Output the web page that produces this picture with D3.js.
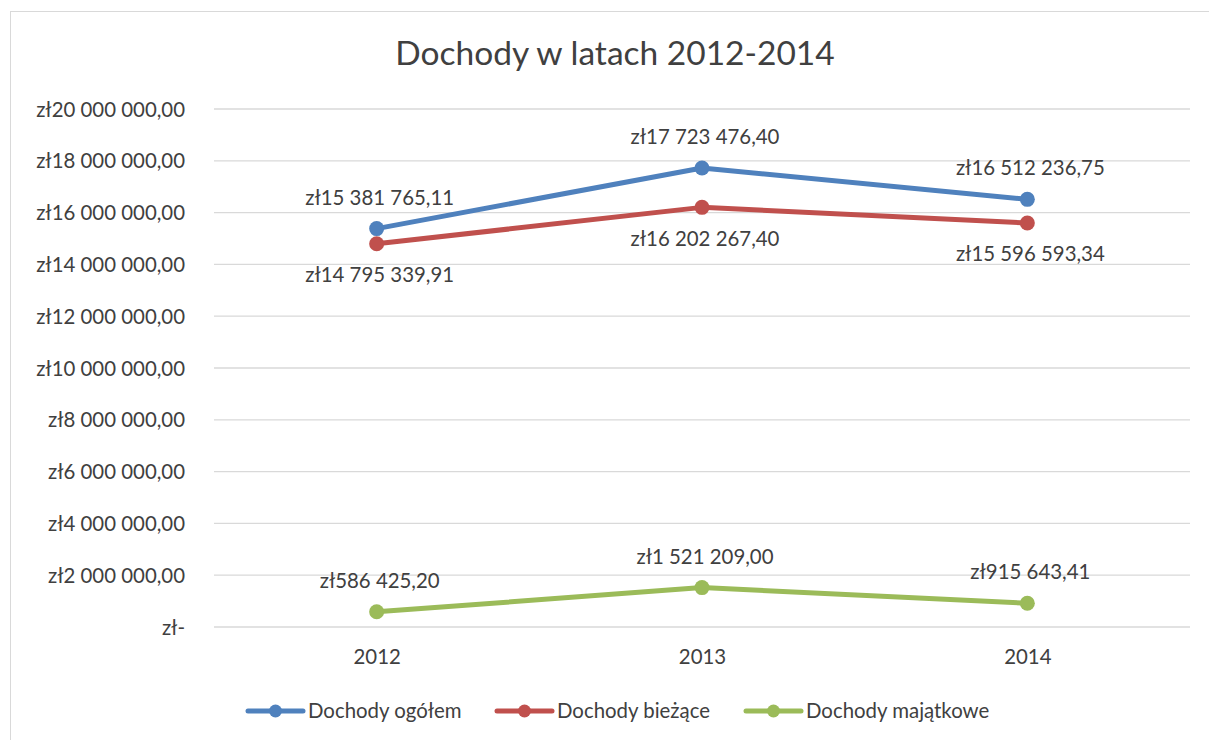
<!DOCTYPE html>
<html>
<head>
<meta charset="utf-8">
<script src="https://cdn.jsdelivr.net/npm/d3@7"></script>
<style>
  body { margin: 0; background: #fff; }
  text { font-family: Lato, "Open Sans", sans-serif; fill: #404040; }
</style>
</head>
<body>
<svg width="1209" height="740"></svg>
<script>
// data
var years = ["2012", "2013", "2014"];
var seriesNames = ["Dochody ogółem", "Dochody bieżące", "Dochody majątkowe"];
var ogolem = [15381765.11, 17723476.40, 16512236.75];
var biezace = [14795339.91, 16202267.40, 15596593.34];
var majatkowe = [586425.20, 1521209.00, 915643.41];
var yTicks = [0, 2e6, 4e6, 6e6, 8e6, 10e6, 12e6, 14e6, 16e6, 18e6, 20e6];
var colors = ["#4f81bd", "#c0504d", "#9bbb59"];
var labelSide = [-1, 1, -1]; // above / below the point

var svg = d3.select("svg"),
    margin = {top: 109, right: 19, bottom: 113, left: 214},
    width = 1209 - margin.left - margin.right,
    height = 740 - margin.top - margin.bottom;

var fs = "20.4px";

// chart border
svg.append("rect")
  .attr("x", 10.5).attr("y", 11.5)
  .attr("width", 1220).attr("height", 760)
  .attr("fill", "none").attr("stroke", "#d9d9d9").attr("stroke-width", 1);

svg.append("text")
  .attr("x", 615).attr("y", 65)
  .attr("text-anchor", "middle")
  .style("font-size", "33.5px")
  .text("Dochody w latach 2012-2014");

var g = svg.append("g").attr("transform", "translate(" + margin.left + "," + margin.top + ")");

var loc = d3.formatLocale({decimal: ",", thousands: " ", grouping: [3], currency: ["zł", ""]});
var fmt = loc.format(",.2f");
function money(v) { return v === 0 ? "zł-" : "zł" + fmt(v); }

var x = d3.scalePoint().domain(years).range([0, width]).padding(0.5),
    y = d3.scaleLinear().domain([0, 20e6]).range([height, 0]);

// gridlines
g.selectAll(".grid").data(yTicks).enter().append("line")
  .attr("x1", 0).attr("x2", width)
  .attr("y1", function(d) { return y(d); }).attr("y2", function(d) { return y(d); })
  .attr("stroke", "#d9d9d9").attr("stroke-width", 1.3);

// y axis labels
var yAxis = g.append("g").call(d3.axisLeft(y).tickValues(yTicks).tickFormat(money).tickSize(0).tickPadding(29));
yAxis.select(".domain").remove();
yAxis.selectAll("text").style("font-size", fs).attr("dy", "0.35em").attr("fill", "#404040");

// x axis labels
var xAxis = g.append("g").attr("transform", "translate(0," + height + ")")
  .call(d3.axisBottom(x).tickSize(0).tickPadding(23));
xAxis.select(".domain").remove();
xAxis.selectAll("text").style("font-size", fs).attr("fill", "#404040");

var series = [ogolem, biezace, majatkowe].map(function(vals, i) {
  return {name: seriesNames[i], color: colors[i], side: labelSide[i],
    values: vals.map(function(v, j) { return {year: years[j], value: v}; })};
});

var line = d3.line()
  .x(function(d) { return x(d.year); })
  .y(function(d) { return y(d.value); });

var s = g.selectAll(".series").data(series).enter().append("g").attr("class", "series");

s.append("path")
  .attr("d", function(d) { return line(d.values); })
  .attr("fill", "none")
  .attr("stroke", function(d) { return d.color; })
  .attr("stroke-width", 5)
  .attr("stroke-linejoin", "round")
  .attr("stroke-linecap", "round");

s.each(function(sd) {
  var sel = d3.select(this);
  sel.selectAll("circle").data(sd.values).enter().append("circle")
    .attr("cx", function(d) { return x(d.year); })
    .attr("cy", function(d) { return y(d.value); })
    .attr("r", 7.5)
    .attr("fill", sd.color);
  sel.selectAll(".lbl").data(sd.values).enter().append("text")
    .attr("class", "lbl")
    .attr("x", function(d) { return x(d.year) + 3; })
    .attr("y", function(d) { return y(d.value) + sd.side * 31; })
    .attr("dy", "0.35em")
    .attr("text-anchor", "middle")
    .style("font-size", fs)
    .text(function(d) { return money(d.value); });
});

// legend
var legendX = [248, 497, 746];
var lg = svg.selectAll(".legend").data(series).enter().append("g")
  .attr("class", "legend")
  .attr("transform", function(d, i) { return "translate(" + legendX[i] + ",711)"; });
lg.append("line")
  .attr("x1", 0).attr("x2", 55)
  .attr("stroke", function(d) { return d.color; })
  .attr("stroke-width", 5).attr("stroke-linecap", "round");
lg.append("circle").attr("cx", 27.5).attr("r", 6.5).attr("fill", function(d) { return d.color; });
lg.append("text")
  .attr("x", 60).attr("dy", "0.35em")
  .style("font-size", fs)
  .text(function(d) { return d.name; });
</script>
</body>
</html>
